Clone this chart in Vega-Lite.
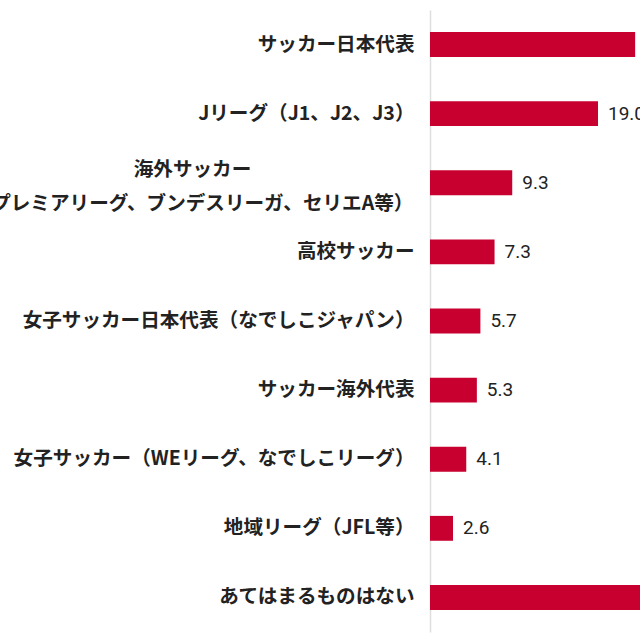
{
  "$schema": "https://vega.github.io/schema/vega-lite/v6.json",
  "autosize": "none",
  "width": 210,
  "height": 622,
  "padding": {"left": 430, "top": 10, "right": 0, "bottom": 8},
  "background": "white",
  "config": {
    "view": {"stroke": null},
    "font": "Noto Sans CJK JP"
  },
  "data": {
    "values": [
      {"item": "サッカー日本代表", "pct": 23.2},
      {"item": "Jリーグ（J1、J2、J3）", "pct": 19.0},
      {"item": "海外サッカー\n（プレミアリーグ、ブンデスリーガ、セリエA等）", "pct": 9.3},
      {"item": "高校サッカー", "pct": 7.3},
      {"item": "女子サッカー日本代表（なでしこジャパン）", "pct": 5.7},
      {"item": "サッカー海外代表", "pct": 5.3},
      {"item": "女子サッカー（WEリーグ、なでしこリーグ）", "pct": 4.1},
      {"item": "地域リーグ（JFL等）", "pct": 2.6},
      {"item": "あてはまるものはない", "pct": 55.0}
    ]
  },
  "encoding": {
    "y": {
      "field": "item",
      "type": "nominal",
      "sort": null,
      "scale": {"paddingInner": 0.64, "paddingOuter": 0.32},
      "axis": {
        "title": null,
        "ticks": false,
        "grid": false,
        "domainColor": "#dedede",
        "domainWidth": 1.5,
        "labelFont": "Noto Sans CJK JP",
        "labelFontSize": 19.6,
        "labelFontWeight": "bold",
        "labelColor": "#222222",
        "labelLimit": 0,
        "labelLineHeight": 34,
        "labelAlign": {"condition": {"test": "indexof(datum.value, '\\n') > 0", "value": "center"}, "value": "right"},
        "labelPadding": {"condition": {"test": "indexof(datum.value, '\\n') > 0", "value": 238}, "value": 16},
        "labelOffset": {"condition": {"test": "indexof(datum.value, '\\n') > 0", "value": -13}, "value": 0},
        "labelExpr": "split(datum.value, '\\n')"
      }
    },
    "x": {
      "field": "pct",
      "type": "quantitative",
      "scale": {"domain": [0, 23.75], "nice": false},
      "axis": null
    }
  },
  "layer": [
    {
      "mark": {"type": "bar", "color": "#c8002f", "clip": true}
    },
    {
      "mark": {
        "type": "text",
        "align": "left",
        "baseline": "middle",
        "dx": 10,
        "font": "Roboto",
        "fontSize": 19,
        "color": "#222222"
      },
      "encoding": {
        "text": {"field": "pct", "type": "quantitative", "format": ".1f"}
      }
    }
  ]
}
